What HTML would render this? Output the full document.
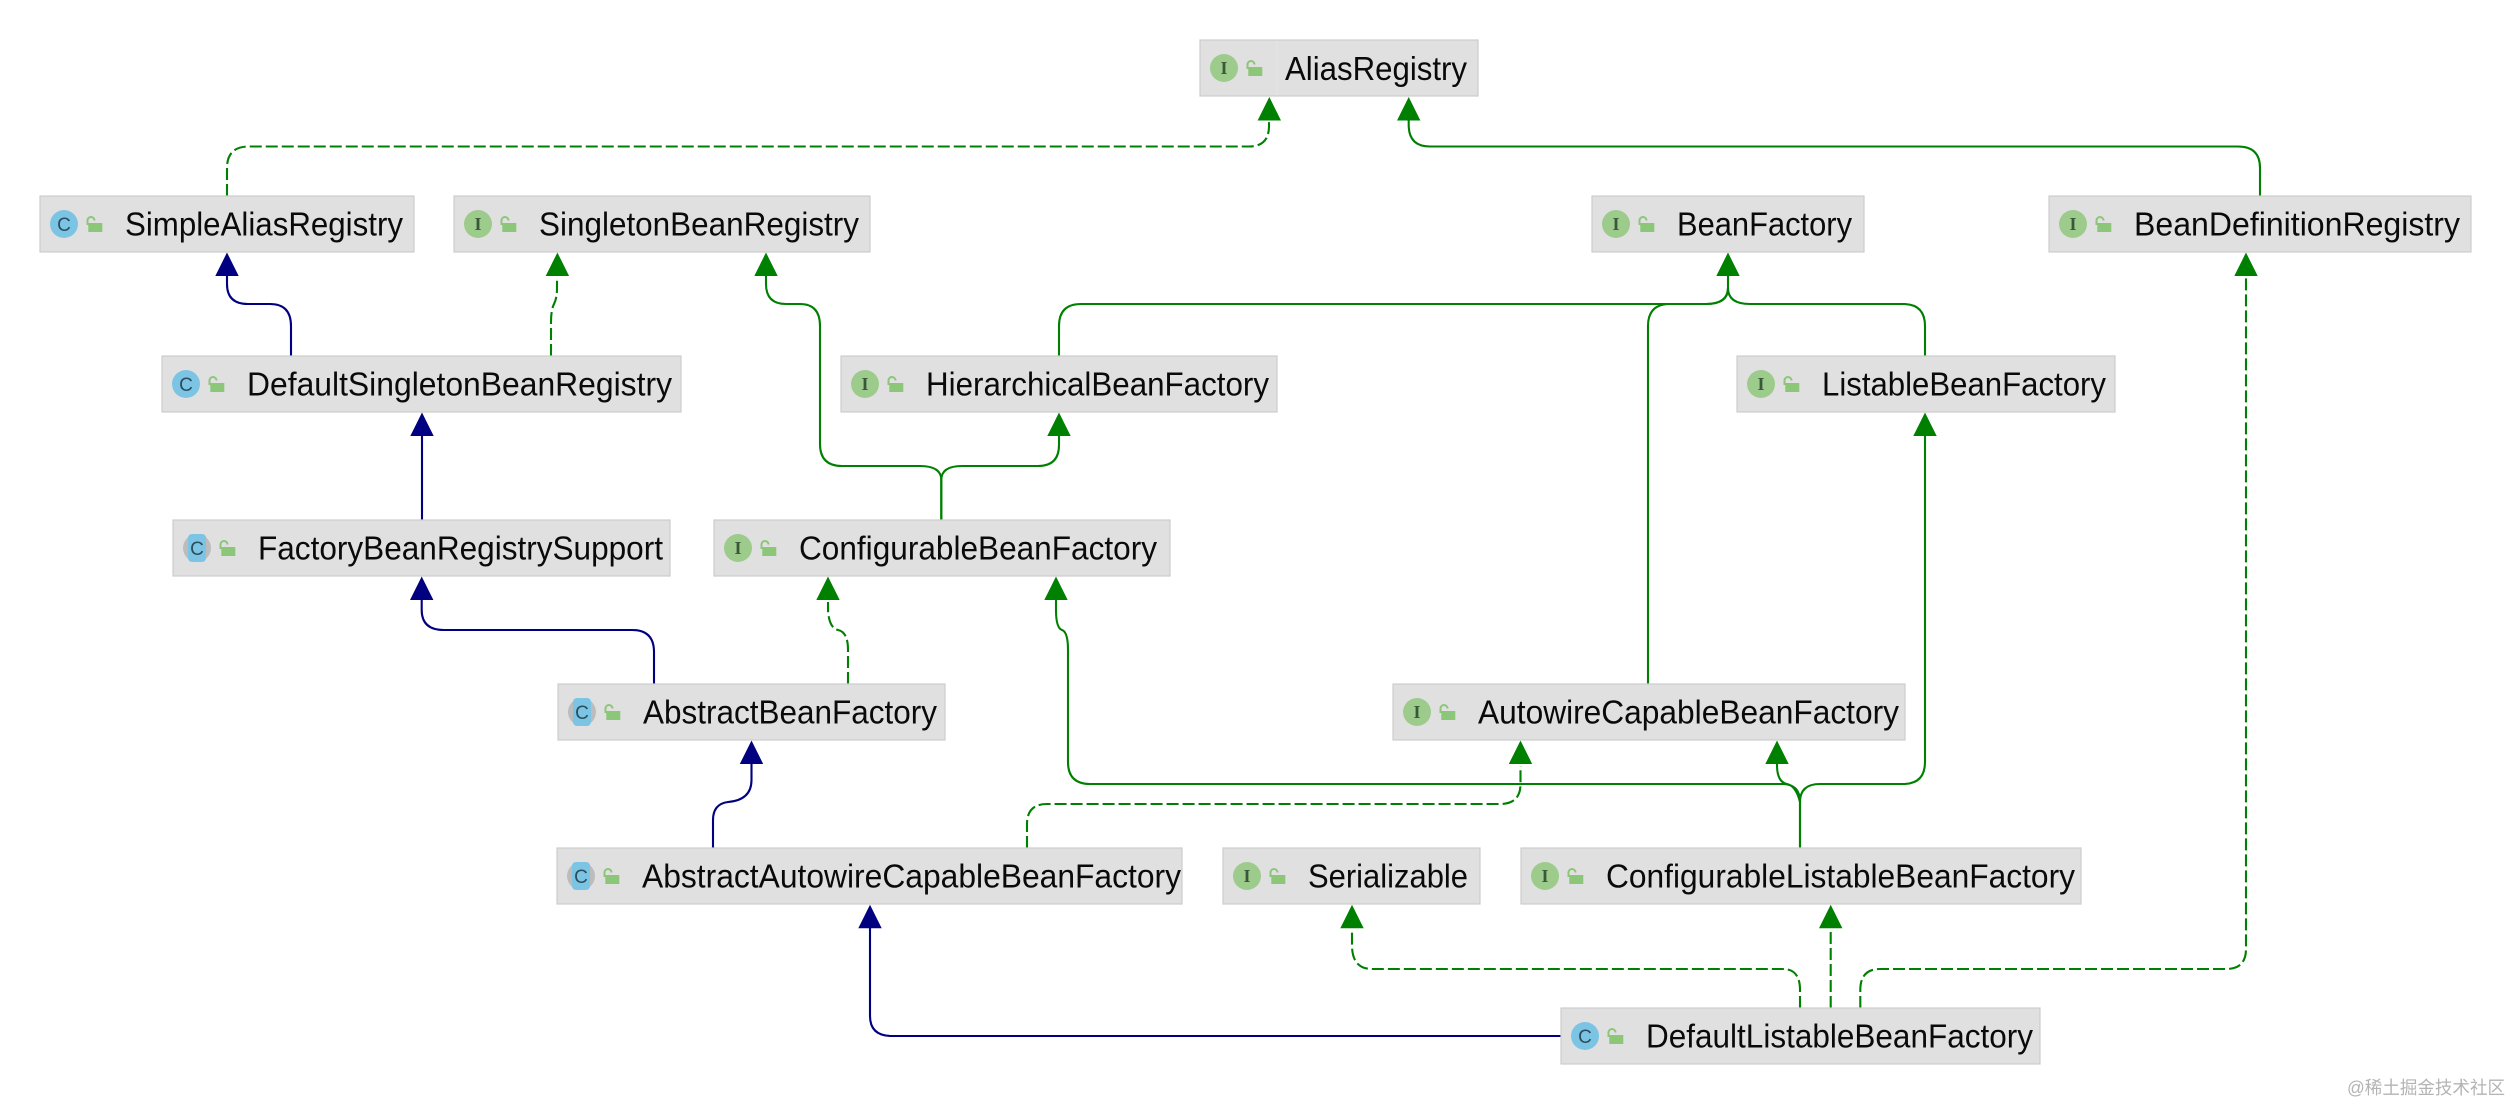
<!DOCTYPE html>
<html lang="en">
<head>
<meta charset="utf-8">
<title>DefaultListableBeanFactory hierarchy</title>
<style>
html,body{margin:0;padding:0;background:#fff;width:2512px;height:1104px;overflow:hidden}
svg{display:block}
.b{fill:#e0e0e0;stroke:#cdcdcd;stroke-width:1.2}
.sep{stroke:#e6e6e6;stroke-width:1}
.t{font-family:"Liberation Sans",sans-serif;font-size:33px;fill:#0a0a0a}
.ci{fill:#9ccb8c}
.cc{fill:#7cc4e4}
.cg{fill:#bcbcbc}
.ii{font-family:"Liberation Serif",serif;font-size:18px;font-weight:bold;fill:#39583a;text-anchor:middle}
.ic{font-family:"Liberation Sans",sans-serif;font-size:19px;fill:#2b4d5e;text-anchor:middle}
.lb{fill:#8cc678}
.ls{fill:none;stroke:#8cc678;stroke-width:2}
.e{fill:none;stroke-width:2.1}
.g{stroke:#008000}
.n{stroke:#000080}
.d{stroke-dasharray:12 4}
.ag{fill:#008000}
.an{fill:#000080}
.w{font-family:"Liberation Sans","Noto Sans CJK SC",sans-serif;font-size:18px;fill:#b4b4b4}
</style>
</head>
<body>
<svg width="2512" height="1104" viewBox="0 0 2512 1104" xmlns="http://www.w3.org/2000/svg">

<!-- connectors: green dashed -->
<path class="e g d" d="M227 196 V168 Q227 146.5 249 146.5 H1249 Q1269 146.5 1269 126 V122"/>
<path class="e g d" d="M551 356 V322 Q551 310 554 304 Q557 298 557 288 V278"/>
<path class="e g d" d="M848 684 V650 Q848 632 838 630 Q829 628 828 610 V602"/>
<path class="e g d" d="M1027 848 V824 Q1027 804 1047 804 H1500 Q1520.500 804 1520.500 784 V766"/>
<path class="e g d" d="M1800 1008 V990 Q1800 969 1783 969 H1372 Q1352 969 1352 945 V930"/>
<path class="e g d" d="M1830.700 1008 V930"/>
<path class="e g d" d="M1860.300 1008 V990 Q1860.300 969 1880 969 H2226 Q2246 969 2246 949 V278"/>

<!-- connectors: green solid -->
<path class="e g" d="M2260 196 V168 Q2260 146.500 2238 146.500 H1430 Q1408.700 146.500 1408.700 125 V118"/>
<path class="e g" d="M941.300 520 V480 Q941.300 466 920 466 H842 Q820 466 820 444 V326 Q820 304 800 304 H786 Q766 304 766 284 V274"/>
<path class="e g" d="M941.300 520 V480 Q941.300 466 962 466 H1038 Q1059 466 1059 445 V434"/>
<path class="e g" d="M1059 356 V326 Q1059 304 1081 304 H1706 Q1728 304 1728 288 V274"/>
<path class="e g" d="M1648 684 V326 Q1648 304 1670 304 H1706 Q1728 304 1728 288"/>
<path class="e g" d="M1925 356 V326 Q1925 304 1903 304 H1750 Q1728 304 1728 288"/>
<path class="e g" d="M1800 848 V802 Q1800 784 1820 784 H1903 Q1925 784 1925 762 V434"/>
<path class="e g" d="M1800 848 V802 Q1800 784 1782 784 H1090 Q1068 784 1068 762 V650 Q1068 632 1062 630 Q1056 628 1056 610 V598"/>
<path class="e g" d="M1800 802 Q1796 786 1787 784 Q1777 782 1777 765 V761"/>

<!-- connectors: navy -->
<path class="e n" d="M291 356 V326 Q291 304 270 304 H248 Q227 304 227 284 V274"/>
<path class="e n" d="M422 520 V434"/>
<path class="e n" d="M654 684 V652 Q654 630 632 630 H444 Q421.700 630 421.700 610 V598"/>
<path class="e n" d="M713 848 V820 Q713 804 728 802 Q751.500 800 751.500 780 V761"/>
<path class="e n" d="M1561 1036 H892 Q870 1036 870 1016 V926"/>

<!-- arrowheads -->
<polygon class="ag" points="1269.300,97 1257.600,120.500 1281,120.500"/>
<polygon class="ag" points="1408.700,97 1397,120.500 1420.400,120.500"/>
<polygon class="ag" points="557.400,252.500 545.700,276 569.100,276"/>
<polygon class="ag" points="766,252.500 754.300,276 777.700,276"/>
<polygon class="ag" points="1728,252.500 1716.300,276 1739.700,276"/>
<polygon class="ag" points="2246,252.500 2234.300,276 2257.700,276"/>
<polygon class="ag" points="1059,412.500 1047.300,436 1070.700,436"/>
<polygon class="ag" points="1925,412.500 1913.300,436 1936.700,436"/>
<polygon class="ag" points="828,576.500 816.300,600 839.700,600"/>
<polygon class="ag" points="1056,576.500 1044.300,600 1067.700,600"/>
<polygon class="ag" points="1520.500,740.500 1508.800,764 1532.200,764"/>
<polygon class="ag" points="1777,740.500 1765.300,764 1788.700,764"/>
<polygon class="ag" points="1352,904.700 1340.300,928.200 1363.700,928.200"/>
<polygon class="ag" points="1830.700,904.700 1819,928.200 1842.400,928.200"/>
<polygon class="an" points="227,252.500 215.300,276 238.700,276"/>
<polygon class="an" points="422,412.500 410.300,436 433.700,436"/>
<polygon class="an" points="421.700,576.500 410,600 433.400,600"/>
<polygon class="an" points="751.500,740.500 739.800,764 763.200,764"/>
<polygon class="an" points="870,904.700 858.300,928.200 881.700,928.200"/>

<!-- nodes -->
<g transform="translate(1200,40)">
<rect class="b" x="0" y="0" width="278" height="56"/><line class="sep" x1="77" y1="1" x2="77" y2="55"/>
<circle class="ci" cx="24" cy="28" r="14"/><text class="ii" x="24" y="34">I</text>
<path class="ls" d="M47.500 29 V24.500 a3.500 3.500 0 0 1 7 0"/><rect class="lb" x="48.300" y="27" width="14" height="9"/>
<text class="t" x="85" y="40" textLength="182" lengthAdjust="spacingAndGlyphs">AliasRegistry</text>
</g>

<g transform="translate(40,196)">
<rect class="b" x="0" y="0" width="374" height="56"/>
<circle class="cc" cx="24" cy="28" r="14"/><text class="ic" x="24" y="35">C</text>
<path class="ls" d="M47.500 29 V24.500 a3.500 3.500 0 0 1 7 0"/><rect class="lb" x="48.300" y="27" width="14" height="9"/>
<text class="t" x="85" y="39.500" textLength="278" lengthAdjust="spacingAndGlyphs">SimpleAliasRegistry</text>
</g>

<g transform="translate(454,196)">
<rect class="b" x="0" y="0" width="416" height="56"/>
<circle class="ci" cx="24" cy="28" r="14"/><text class="ii" x="24" y="34">I</text>
<path class="ls" d="M47.500 29 V24.500 a3.500 3.500 0 0 1 7 0"/><rect class="lb" x="48.300" y="27" width="14" height="9"/>
<text class="t" x="85" y="39.500" textLength="320" lengthAdjust="spacingAndGlyphs">SingletonBeanRegistry</text>
</g>

<g transform="translate(1592,196)">
<rect class="b" x="0" y="0" width="272" height="56"/>
<circle class="ci" cx="24" cy="28" r="14"/><text class="ii" x="24" y="34">I</text>
<path class="ls" d="M47.500 29 V24.500 a3.500 3.500 0 0 1 7 0"/><rect class="lb" x="48.300" y="27" width="14" height="9"/>
<text class="t" x="85" y="39.500" textLength="175" lengthAdjust="spacingAndGlyphs">BeanFactory</text>
</g>

<g transform="translate(2049,196)">
<rect class="b" x="0" y="0" width="422" height="56"/>
<circle class="ci" cx="24" cy="28" r="14"/><text class="ii" x="24" y="34">I</text>
<path class="ls" d="M47.500 29 V24.500 a3.500 3.500 0 0 1 7 0"/><rect class="lb" x="48.300" y="27" width="14" height="9"/>
<text class="t" x="85" y="39.500" textLength="326" lengthAdjust="spacingAndGlyphs">BeanDefinitionRegistry</text>
</g>

<g transform="translate(162,356)">
<rect class="b" x="0" y="0" width="519" height="56"/>
<circle class="cc" cx="24" cy="28" r="14"/><text class="ic" x="24" y="35">C</text>
<path class="ls" d="M47.500 29 V24.500 a3.500 3.500 0 0 1 7 0"/><rect class="lb" x="48.300" y="27" width="14" height="9"/>
<text class="t" x="85" y="39.500" textLength="425" lengthAdjust="spacingAndGlyphs">DefaultSingletonBeanRegistry</text>
</g>

<g transform="translate(841,356)">
<rect class="b" x="0" y="0" width="436" height="56"/>
<circle class="ci" cx="24" cy="28" r="14"/><text class="ii" x="24" y="34">I</text>
<path class="ls" d="M47.500 29 V24.500 a3.500 3.500 0 0 1 7 0"/><rect class="lb" x="48.300" y="27" width="14" height="9"/>
<text class="t" x="85" y="39.500" textLength="343" lengthAdjust="spacingAndGlyphs">HierarchicalBeanFactory</text>
</g>

<g transform="translate(1737,356)">
<rect class="b" x="0" y="0" width="378" height="56"/>
<circle class="ci" cx="24" cy="28" r="14"/><text class="ii" x="24" y="34">I</text>
<path class="ls" d="M47.500 29 V24.500 a3.500 3.500 0 0 1 7 0"/><rect class="lb" x="48.300" y="27" width="14" height="9"/>
<text class="t" x="85" y="39.500" textLength="284" lengthAdjust="spacingAndGlyphs">ListableBeanFactory</text>
</g>

<g transform="translate(173,520)">
<rect class="b" x="0" y="0" width="497" height="56"/>
<circle class="cg" cx="24" cy="28" r="14"/><rect class="cc" x="15" y="14" width="18" height="28" rx="4"/><text class="ic" x="24" y="35">C</text>
<path class="ls" d="M47.500 29 V24.500 a3.500 3.500 0 0 1 7 0"/><rect class="lb" x="48.300" y="27" width="14" height="9"/>
<text class="t" x="85" y="39.500" textLength="405" lengthAdjust="spacingAndGlyphs">FactoryBeanRegistrySupport</text>
</g>

<g transform="translate(714,520)">
<rect class="b" x="0" y="0" width="456" height="56"/>
<circle class="ci" cx="24" cy="28" r="14"/><text class="ii" x="24" y="34">I</text>
<path class="ls" d="M47.500 29 V24.500 a3.500 3.500 0 0 1 7 0"/><rect class="lb" x="48.300" y="27" width="14" height="9"/>
<text class="t" x="85" y="39.500" textLength="358" lengthAdjust="spacingAndGlyphs">ConfigurableBeanFactory</text>
</g>

<g transform="translate(558,684)">
<rect class="b" x="0" y="0" width="387" height="56"/>
<circle class="cg" cx="24" cy="28" r="14"/><rect class="cc" x="15" y="14" width="18" height="28" rx="4"/><text class="ic" x="24" y="35">C</text>
<path class="ls" d="M47.500 29 V24.500 a3.500 3.500 0 0 1 7 0"/><rect class="lb" x="48.300" y="27" width="14" height="9"/>
<text class="t" x="85" y="39.500" textLength="294" lengthAdjust="spacingAndGlyphs">AbstractBeanFactory</text>
</g>

<g transform="translate(1393,684)">
<rect class="b" x="0" y="0" width="512" height="56"/>
<circle class="ci" cx="24" cy="28" r="14"/><text class="ii" x="24" y="34">I</text>
<path class="ls" d="M47.500 29 V24.500 a3.500 3.500 0 0 1 7 0"/><rect class="lb" x="48.300" y="27" width="14" height="9"/>
<text class="t" x="85" y="39.500" textLength="421" lengthAdjust="spacingAndGlyphs">AutowireCapableBeanFactory</text>
</g>

<g transform="translate(557,848)">
<rect class="b" x="0" y="0" width="625" height="56"/>
<circle class="cg" cx="24" cy="28" r="14"/><rect class="cc" x="15" y="14" width="18" height="28" rx="4"/><text class="ic" x="24" y="35">C</text>
<path class="ls" d="M47.500 29 V24.500 a3.500 3.500 0 0 1 7 0"/><rect class="lb" x="48.300" y="27" width="14" height="9"/>
<text class="t" x="85" y="39.500" textLength="539" lengthAdjust="spacingAndGlyphs">AbstractAutowireCapableBeanFactory</text>
</g>

<g transform="translate(1223,848)">
<rect class="b" x="0" y="0" width="257" height="56"/>
<circle class="ci" cx="24" cy="28" r="14"/><text class="ii" x="24" y="34">I</text>
<path class="ls" d="M47.500 29 V24.500 a3.500 3.500 0 0 1 7 0"/><rect class="lb" x="48.300" y="27" width="14" height="9"/>
<text class="t" x="85" y="39.500" textLength="160" lengthAdjust="spacingAndGlyphs">Serializable</text>
</g>

<g transform="translate(1521,848)">
<rect class="b" x="0" y="0" width="560" height="56"/>
<circle class="ci" cx="24" cy="28" r="14"/><text class="ii" x="24" y="34">I</text>
<path class="ls" d="M47.500 29 V24.500 a3.500 3.500 0 0 1 7 0"/><rect class="lb" x="48.300" y="27" width="14" height="9"/>
<text class="t" x="85" y="39.500" textLength="469" lengthAdjust="spacingAndGlyphs">ConfigurableListableBeanFactory</text>
</g>

<g transform="translate(1561,1008)">
<rect class="b" x="0" y="0" width="479" height="56"/>
<circle class="cc" cx="24" cy="28" r="14"/><text class="ic" x="24" y="35">C</text>
<path class="ls" d="M47.500 29 V24.500 a3.500 3.500 0 0 1 7 0"/><rect class="lb" x="48.300" y="27" width="14" height="9"/>
<text class="t" x="85" y="39.500" textLength="387" lengthAdjust="spacingAndGlyphs">DefaultListableBeanFactory</text>
</g>

<text class="w" x="2347" y="1094" textLength="158" lengthAdjust="spacingAndGlyphs">@稀土掘金技术社区</text>
</svg>
</body>
</html>
